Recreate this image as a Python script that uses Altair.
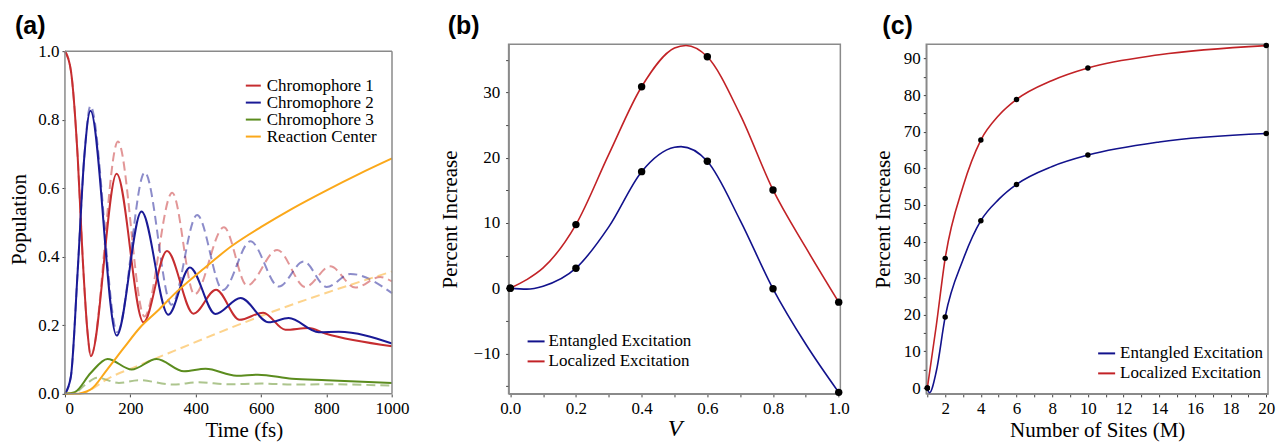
import altair as alt
import pandas as pd

SERIF = "Liberation Serif"
SANS = "Liberation Sans"

# ---------------- Panel (a): populations vs time ----------------
a_names = ["Chromophore 1", "Chromophore 2", "Chromophore 3", "Reaction Center"]
a_colors = ["#c62d30", "#1a1a96", "#5b8c1e", "#fba81a"]

c1_t = [0, 18, 39, 54, 69, 79, 158, 240, 312, 393, 462, 534, 606, 674, 745, 796, 1000]
c1_v = [1.0, 0.944, 0.69, 0.40, 0.18, 0.11, 0.642, 0.209, 0.417, 0.234, 0.304, 0.216, 0.237, 0.187, 0.192, 0.176, 0.139]
c2_t = [0, 18, 39, 59, 78, 158, 234, 316, 382, 460, 537, 623, 684, 776, 837, 1000]
c2_v = [0, 0.05, 0.36, 0.69, 0.826, 0.17, 0.532, 0.231, 0.369, 0.233, 0.280, 0.209, 0.221, 0.180, 0.181, 0.147]
c3_t = [0, 30, 78, 130, 204, 280, 364, 430, 525, 590, 694, 800, 1000]
c3_v = [0, 0.005, 0.06, 0.102, 0.071, 0.102, 0.066, 0.073, 0.053, 0.056, 0.044, 0.040, 0.032]
rc_t = [0, 30, 78, 129, 180, 231, 282, 343, 420, 511, 600, 694, 800, 900, 1000]
rc_v = [0, 0.0, 0.0125, 0.071, 0.134, 0.195, 0.241, 0.299, 0.362, 0.432, 0.487, 0.540, 0.594, 0.642, 0.687]

c1d_t = [0, 18, 39, 54, 69, 79, 162, 243, 328, 396, 486, 557, 649, 735, 811, 888, 964, 1000]
c1d_v = [1.0, 0.944, 0.69, 0.40, 0.18, 0.11, 0.736, 0.226, 0.587, 0.290, 0.486, 0.316, 0.420, 0.312, 0.372, 0.310, 0.341, 0.328]
c2d_t = [0, 18, 39, 59, 78, 160, 244, 326, 404, 483, 567, 654, 730, 800, 873, 1000]
c2d_v = [0, 0.05, 0.36, 0.69, 0.84, 0.18, 0.646, 0.26, 0.522, 0.303, 0.445, 0.313, 0.386, 0.312, 0.350, 0.294]
c3d_t = [0, 30, 60, 99, 165, 226, 330, 409, 500, 600, 700, 800, 1000]
c3d_v = [0, 0.003, 0.025, 0.047, 0.032, 0.040, 0.027, 0.034, 0.028, 0.030, 0.027, 0.028, 0.024]
rcd_t = [0, 50, 78, 129, 231, 343, 500, 664, 800, 1000]
rcd_v = [0, 0.0, 0.012, 0.043, 0.085, 0.129, 0.19, 0.25, 0.295, 0.357]

a_x_ticks = list(range(0, 1001, 100))
a_y_ticks = [i / 10 for i in range(11)]

# ---------------- Panel (b): percent increase vs V ----------------
bc_names = ["Entangled Excitation", "Localized Excitation"]
bc_colors = ["#12128c", "#c22226"]

b_pts_v = [0.0, 0.2, 0.4, 0.6, 0.8, 1.0]
b_pts_ent = [0.0, 3.06, 17.86, 19.44, -0.1, -15.97]
b_pts_loc = [0.0, 9.74, 30.87, 35.46, 15.05, -2.14]

b_ent_v = [0, 0.05, 0.1, 0.2, 0.3, 0.4, 0.5, 0.52, 0.6, 0.7, 0.8, 0.9, 1.0]
b_ent_y = [0, -0.15, 0.3, 3.06, 9.4, 17.86, 21.6, 21.7, 19.44, 10.4, -0.1, -8.6, -15.97]
b_loc_v = [0, 0.05, 0.1, 0.2, 0.3, 0.4, 0.5, 0.535, 0.6, 0.7, 0.8, 0.9, 1.0]
b_loc_y = [0, 1.3, 3.1, 9.74, 20.5, 30.87, 36.8, 37.2, 35.46, 26.6, 15.05, 6.2, -2.14]

b_x_ticks = [i / 10 for i in range(11)]
b_y_ticks = list(range(-15, 36, 5))

# ---------------- Panel (c): percent increase vs number of sites ----------------
c_pts_m = [1, 2, 4, 6, 10, 20]
c_pts_ent = [0.0, 19.4, 45.7, 55.6, 63.6, 69.5]
c_pts_loc = [0.0, 35.4, 67.7, 78.8, 87.4, 93.5]

c_ent_m = [1, 1.12, 1.5, 2, 3, 4, 5, 6, 8, 10, 14, 20]
c_ent_y = [0, -1.3, 4.5, 19.4, 35.0, 45.7, 51.5, 55.6, 60.5, 63.6, 67.2, 69.5]
c_loc_m = [1, 1.5, 2, 3, 4, 5, 6, 8, 10, 14, 20]
c_loc_y = [0, 17.0, 35.4, 55.0, 67.7, 74.4, 78.8, 84.0, 87.4, 91.0, 93.5]

c_x_ticks = list(range(1, 21))
c_y_ticks = list(range(0, 91, 5))


def frame_df(x0, x1, y0, y1):
    return pd.DataFrame({"x": [x0, x0, x0, x1], "x2": [x1, x1, x0, x1],
                         "y": [y0, y1, y0, y0], "y2": [y0, y1, y1, y1]})


def panel_title(text, dx):
    return alt.TitleParams(text, anchor="start", frame="group", dx=dx, font=SANS,
                           fontSize=25, fontWeight="bold", color="black",
                           baseline="alphabetic", offset=-17)


# ----- build panel (a)
solid = pd.concat([
    pd.DataFrame({"t": c1_t, "pop": c1_v, "series": a_names[0]}),
    pd.DataFrame({"t": c2_t, "pop": c2_v, "series": a_names[1]}),
    pd.DataFrame({"t": c3_t, "pop": c3_v, "series": a_names[2]}),
    pd.DataFrame({"t": rc_t, "pop": rc_v, "series": a_names[3]}),
])
dashed = pd.concat([
    pd.DataFrame({"t": c1d_t, "pop": c1d_v, "series": a_names[0]}),
    pd.DataFrame({"t": c2d_t, "pop": c2d_v, "series": a_names[1]}),
    pd.DataFrame({"t": c3d_t, "pop": c3d_v, "series": a_names[2]}),
    pd.DataFrame({"t": rcd_t, "pop": rcd_v, "series": a_names[3]}),
])

A_W, A_H = 358, 350
T_MAX, P_MAX = 1000, 1.0
ax_x = alt.Scale(domain=[0, T_MAX * 358 / 327.3], nice=False)
ax_y = alt.Scale(domain=[0, P_MAX * 350.3 / 343.3], nice=False)

xa = alt.X("t:Q", scale=ax_x, axis=alt.Axis(
    values=a_x_ticks, format="d", labelExpr="datum.value % 200 == 0 ? datum.label : ''",
    domain=False, title="Time (fs)", titlePadding=3, labelPadding=4))
ya = alt.Y("pop:Q", scale=ax_y, axis=alt.Axis(
    values=a_y_ticks, format=".1f",
    labelExpr="round(datum.value * 10) % 2 == 0 ? datum.label : ''",
    domain=False, title="Population", titlePadding=8, labelPadding=3))

dash_layer = alt.Chart(dashed).mark_line(
    interpolate="monotone", strokeWidth=2, opacity=0.5, strokeDash=[9, 5]
).encode(x=xa, y=ya, detail="series:N",
         color=alt.Color("series:N", scale=alt.Scale(domain=a_names, range=a_colors), legend=None))

solid_layer = alt.Chart(solid).mark_line(interpolate="monotone", strokeWidth=2).encode(
    x=xa, y=ya,
    color=alt.Color("series:N", scale=alt.Scale(domain=a_names, range=a_colors),
                    sort=a_names,
                    legend=alt.Legend(orient="none", legendX=180, legendY=33, title=None,
                                      symbolType="stroke", symbolSize=225, symbolStrokeWidth=2,
                                      labelOffset=5, rowPadding=-1, padding=0,
                                      labelFont=SERIF, labelFontSize=17, labelLimit=0)))

frame_a = alt.Chart(frame_df(0, T_MAX, 0, P_MAX)).mark_rule(color="#8a8a8a", strokeWidth=1.5).encode(
    x=alt.X("x:Q", scale=ax_x), x2="x2:Q", y=alt.Y("y:Q", scale=ax_y), y2="y2:Q")

panel_a = alt.layer(dash_layer, solid_layer, frame_a).resolve_scale(color="independent").properties(
    width=A_W, height=A_H, title=panel_title("(a)", -50),
    view=alt.ViewBackground(stroke=None))

# ----- build panel (b)
b_curves = pd.concat([
    pd.DataFrame({"v": b_ent_v, "y": b_ent_y, "series": bc_names[0]}),
    pd.DataFrame({"v": b_loc_v, "y": b_loc_y, "series": bc_names[1]}),
])
b_points = pd.concat([
    pd.DataFrame({"v": b_pts_v, "y": b_pts_ent}),
    pd.DataFrame({"v": b_pts_v, "y": b_pts_loc}),
])
bx = alt.Scale(domain=[-0.005, 1.005], nice=False)
by = alt.Scale(domain=[-16.2, 37.4], nice=False)
xb = alt.X("v:Q", scale=bx, axis=alt.Axis(
    values=b_x_ticks, format=".1f",
    labelExpr="round(datum.value * 10) % 2 == 0 ? datum.label : ''",
    title="V", titleFontStyle="italic", titleFontSize=24, titlePadding=0, labelPadding=4))
yb = alt.Y("y:Q", scale=by, axis=alt.Axis(
    values=b_y_ticks, labelExpr="datum.value % 10 == 0 ? datum.label : ''",
    title="Percent Increase", titlePadding=13, labelPadding=6))

b_lines = alt.Chart(b_curves).mark_line(interpolate="monotone", strokeWidth=1.6).encode(
    x=xb, y=yb,
    color=alt.Color("series:N", scale=alt.Scale(domain=bc_names, range=bc_colors), sort=bc_names,
                    legend=alt.Legend(orient="none", legendX=18, legendY=288, title=None,
                                      symbolType="stroke", symbolSize=289, symbolStrokeWidth=2,
                                      labelOffset=3, rowPadding=2, padding=0,
                                      labelFont=SERIF, labelFontSize=17, labelLimit=0)))
b_dots = alt.Chart(b_points).mark_circle(size=55, color="black", opacity=1).encode(x=xb, y=yb)
panel_b = alt.layer(b_lines, b_dots).properties(width=332, height=350, title=panel_title("(b)", -61))

# ----- build panel (c)
c_curves = pd.concat([
    pd.DataFrame({"m": c_ent_m, "y": c_ent_y, "series": bc_names[0]}),
    pd.DataFrame({"m": c_loc_m, "y": c_loc_y, "series": bc_names[1]}),
])
c_points = pd.concat([
    pd.DataFrame({"m": c_pts_m, "y": c_pts_ent}),
    pd.DataFrame({"m": c_pts_m, "y": c_pts_loc}),
])
cx = alt.Scale(domain=[0.94, 20.1], nice=False)
cy = alt.Scale(domain=[-1.6, 93.9], nice=False)
xc = alt.X("m:Q", scale=cx, axis=alt.Axis(
    values=c_x_ticks, labelExpr="datum.value % 2 == 0 ? datum.label : ''",
    title="Number of Sites (M)", titlePadding=3, labelPadding=4))
yc = alt.Y("y:Q", scale=cy, axis=alt.Axis(
    values=c_y_ticks, labelExpr="datum.value % 10 == 0 ? datum.label : ''",
    title="Percent Increase", titlePadding=10, labelPadding=3))

c_lines = alt.Chart(c_curves).mark_line(interpolate="monotone", strokeWidth=1.6).encode(
    x=xc, y=yc,
    color=alt.Color("series:N", scale=alt.Scale(domain=bc_names, range=bc_colors), sort=bc_names,
                    legend=alt.Legend(orient="none", legendX=171, legendY=300, title=None,
                                      symbolType="stroke", symbolSize=289, symbolStrokeWidth=2,
                                      labelOffset=4, rowPadding=2, padding=0,
                                      labelFont=SERIF, labelFontSize=17, labelLimit=0)))
c_dots = alt.Chart(c_points).mark_circle(size=30, color="black", opacity=1).encode(x=xc, y=yc)
panel_c = alt.layer(c_lines, c_dots).properties(width=342, height=350, title=panel_title("(c)", -44))

chart = alt.hconcat(panel_a, panel_b, panel_c, spacing=86, bounds="flush").resolve_scale(
    color="independent"
).configure(
    padding={"left": 0, "top": 5, "right": 0, "bottom": 0}
).configure_view(
    stroke="#8a8a8a", strokeWidth=1.5
).configure_axis(
    grid=False, labelFont=SERIF, labelFontSize=17, labelColor="black",
    titleFont=SERIF, titleFontSize=21, titleFontWeight="normal", titleColor="black",
    tickColor="#444", tickSize=3, domainColor="#8a8a8a", domainWidth=1.5
)

chart.save("out.html", embed_options={"renderer": "svg", "actions": False})
